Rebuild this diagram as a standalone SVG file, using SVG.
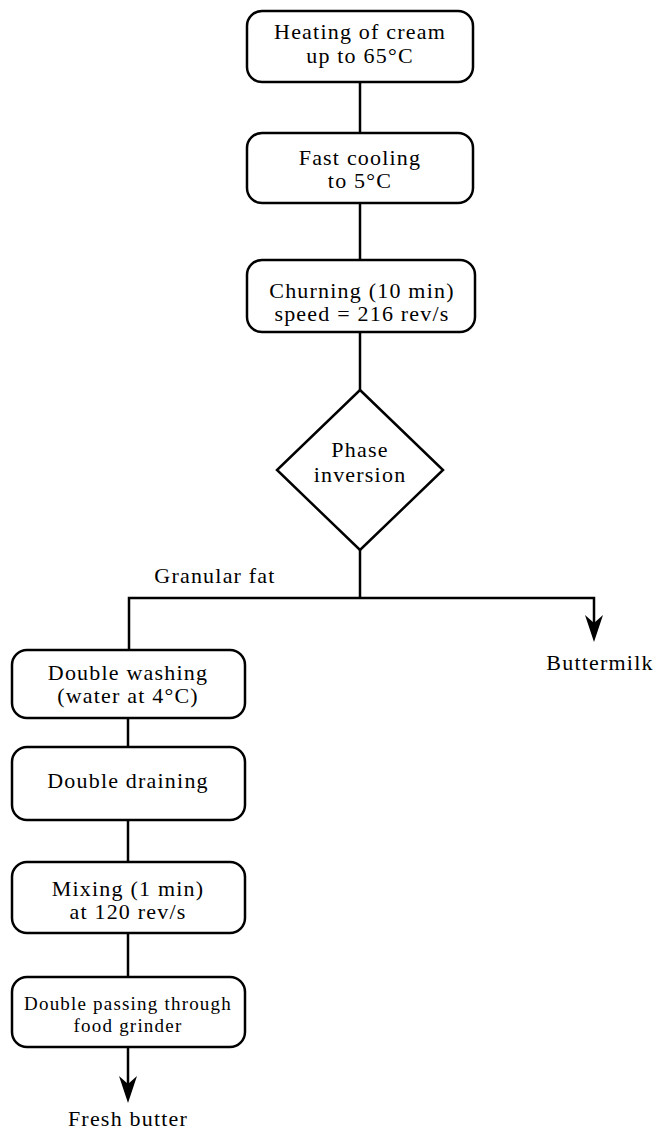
<svg xmlns="http://www.w3.org/2000/svg" width="656" height="1130" viewBox="0 0 656 1130">
<style>
.box{fill:#fff;stroke:#000;stroke-width:2.5}
.ln{fill:none;stroke:#000;stroke-width:2.5}
.t{font-family:"Liberation Serif","Times New Roman",serif;font-size:22px;letter-spacing:1.2px;text-anchor:middle;fill:#000}
.s{font-size:19px}
.ah{fill:#000;stroke:none}
</style>
<rect width="656" height="1130" fill="#fff"/>
<g id="connectors">
<line class="ln" x1="360" y1="82" x2="360" y2="133"/>
<line class="ln" x1="360" y1="203" x2="360" y2="260"/>
<line class="ln" x1="360" y1="332" x2="360" y2="390"/>
<line class="ln" x1="360" y1="550" x2="360" y2="598"/>
<polyline class="ln" points="129,650 129,598 594,598 594,630"/>
<path class="ah" d="M594,642 L585,615 L594,623 L603,615 Z"/>
<line class="ln" x1="128" y1="718" x2="128" y2="747"/>
<line class="ln" x1="128" y1="820" x2="128" y2="862"/>
<line class="ln" x1="128" y1="933" x2="128" y2="977"/>
<line class="ln" x1="128" y1="1047" x2="128" y2="1092"/>
<path class="ah" d="M128,1103 L119,1076 L128,1084 L137,1076 Z"/>
<text class="t" x="215" y="583">Granular fat</text>
<text class="t" x="600" y="670">Buttermilk</text>
<text class="t" x="128" y="1126">Fresh butter</text>
</g>
<g id="heating">
<rect class="box" x="247" y="11" width="226" height="71" rx="15"/>
<text class="t" x="360" y="39">Heating of cream</text>
<text class="t" x="360" y="63">up to 65°C</text>
</g>
<g id="cooling">
<rect class="box" x="247" y="133" width="226" height="70" rx="15"/>
<text class="t" x="360" y="165">Fast cooling</text>
<text class="t" x="360" y="188">to 5°C</text>
</g>
<g id="churning">
<rect class="box" x="247" y="260" width="228" height="72" rx="15"/>
<text class="t" x="362" y="298">Churning (10 min)</text>
<text class="t" x="362" y="321">speed = 216 rev/s</text>
</g>
<g id="phase">
<polygon class="box" points="360,390 443,470 360,550 277,470"/>
<text class="t" x="360" y="457">Phase</text>
<text class="t" x="360" y="482">inversion</text>
</g>
<g id="washing">
<rect class="box" x="12" y="650" width="233" height="68" rx="15"/>
<text class="t" x="128" y="680">Double washing</text>
<text class="t" x="128" y="703">(water at 4°C)</text>
</g>
<g id="draining">
<rect class="box" x="12" y="747" width="233" height="73" rx="15"/>
<text class="t" x="128" y="788">Double draining</text>
</g>
<g id="mixing">
<rect class="box" x="12" y="862" width="233" height="71" rx="15"/>
<text class="t" x="128" y="896">Mixing (1 min)</text>
<text class="t" x="128" y="919">at 120 rev/s</text>
</g>
<g id="grinder">
<rect class="box" x="12" y="977" width="233" height="70" rx="15"/>
<text class="t s" x="128" y="1010">Double passing through</text>
<text class="t s" x="128" y="1032">food grinder</text>
</g>
</svg>
